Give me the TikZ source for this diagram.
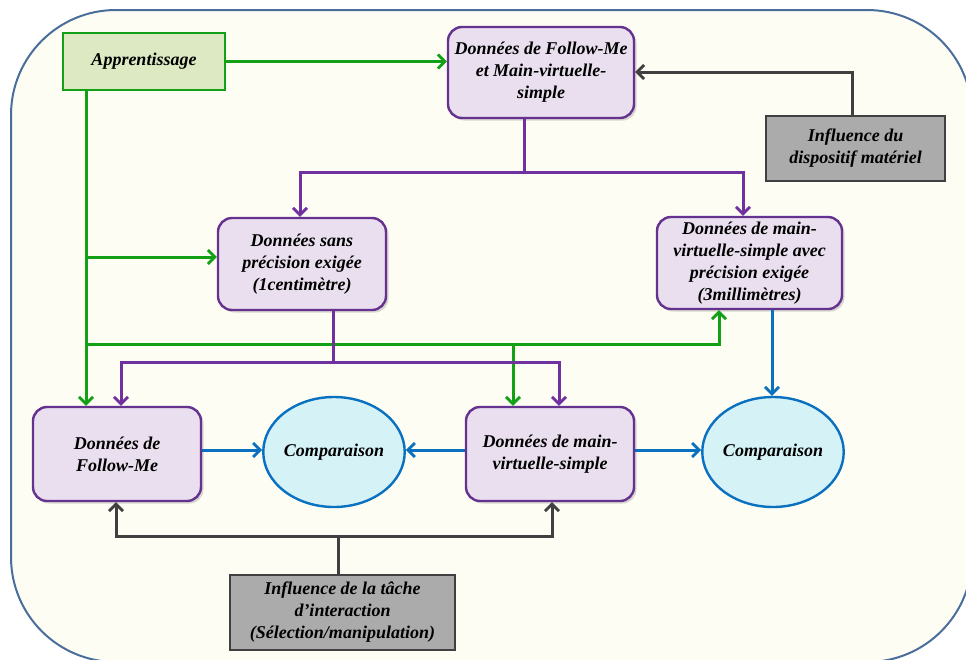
\documentclass[tikz,border=0pt]{standalone}
\usepackage{fontspec}
\setmainfont{Liberation Serif}
\usetikzlibrary{arrows.meta,shadows,shapes.geometric}
\definecolor{bgfill}{HTML}{FDFDF4}
\definecolor{bgline}{HTML}{4A6E9B}
\definecolor{grn}{HTML}{14A014}
\definecolor{grnfill}{HTML}{DDE9C3}
\definecolor{purp}{HTML}{7030A0}
\definecolor{purpline}{HTML}{65338F}
\definecolor{purpfill}{HTML}{E9DFEE}
\definecolor{blu}{HTML}{0A70C0}
\definecolor{blufill}{HTML}{D5F2F7}
\definecolor{gry}{HTML}{404040}
\definecolor{gryfill}{HTML}{ABABAB}
\tikzset{
  txt/.style={font=\fontsize{18}{22}\selectfont\bfseries\itshape, align=center, text=black, inner sep=2pt},
  pbox/.style={txt, draw=purpline, line width=2.4pt, fill=purpfill, rounded corners=14pt,
    drop shadow={shadow xshift=2.5pt, shadow yshift=-2.5pt, opacity=0.3}},
  gbox/.style={txt, draw=gry, line width=2.4pt, fill=gryfill},
  abox/.style={txt, draw=grn, line width=2.4pt, fill=grnfill},
  ebox/.style={txt, ellipse, draw=blu, line width=2.4pt, fill=blufill, inner sep=0pt},
  tip/.style={-{Straight Barb[length=7pt,width=14pt,line width=2.8pt]}},
  gline/.style={draw=grn, line width=3pt},
  pline/.style={draw=purp, line width=3pt},
  bline/.style={draw=blu, line width=3pt},
  kline/.style={draw=gry, line width=3pt},
}
\begin{document}
\begin{tikzpicture}[x=1pt,y=-1pt]
\useasboundingbox (0,0) rectangle (966,659);
\draw[fill=bgfill, draw=bgline, line width=2pt, rounded corners=105pt] (11,10) rectangle (972,662);

% nodes
\node[abox, minimum width=162pt, minimum height=57pt] (app) at (144,61.5) {Apprentissage};
\node[pbox, minimum width=186pt, minimum height=91pt] (dfm) at (541,72.5) {Données de Follow-Me\\et Main-virtuelle-\\simple};
\node[gbox, minimum width=179pt, minimum height=65pt] (infd) at (855.5,148.5) {Influence du\\dispositif matériel};
\node[pbox, minimum width=168pt, minimum height=92pt] (sans) at (302,264) {Données sans\\précision exigée\\(1centimètre)};
\node[pbox, minimum width=185pt, minimum height=92pt] (prec) at (749.5,263) {Données de main-\\virtuelle-simple avec\\précision exigée\\(3millimètres)};
\node[pbox, minimum width=168pt, minimum height=94pt] (fm) at (117,454) {Données de\\Follow-Me};
\node[ebox, minimum width=138pt, minimum height=110pt] (cmp1) at (334,452) {Comparaison};
\node[pbox, minimum width=168pt, minimum height=94pt] (mvs) at (550,454) {Données de main-\\virtuelle-simple};
\node[ebox, minimum width=139pt, minimum height=110pt] (cmp2) at (773,452) {Comparaison};
\node[gbox, minimum width=225pt, minimum height=75pt] (inft) at (342.5,612.5) {Influence de la tâche\\d’interaction\\(Sélection/manipulation)};

% helper coordinates
\coordinate (gx) at (86,0);
\coordinate (gb1) at (86,257);
\coordinate (gb2) at (86,344);
\coordinate (gx2) at (719,0);
\coordinate (gm) at (513,344);
\coordinate (pj1) at (524,172);
\coordinate (px1) at (300,0);
\coordinate (px2) at (743,0);
\coordinate (pj2) at (333,362);
\coordinate (px3) at (121,0);
\coordinate (px4) at (559,0);
\coordinate (kj1) at (852,72);
\coordinate (kj2) at (338,536);
\coordinate (kx1) at (116,0);
\coordinate (kx2) at (552,0);
\coordinate (by) at (0,450);
\coordinate (bx) at (772,0);

% green connectors
\draw[gline, tip] (app.east) -- (app.east -| dfm.west);
\draw[gline, tip] (app.south -| gx) -- (gx |- fm.north);
\draw[gline, tip] (gb1) -- (gb1 -| sans.west);
\draw[gline, tip] (gb2) -| (prec.south -| gx2);
\draw[gline, tip] (gm) -- (gm |- mvs.north);

% purple connectors
\draw[pline] (dfm.south -| pj1) -- (pj1);
\draw[pline, tip] (pj1) -| (sans.north -| px1);
\draw[pline, tip] (pj1) -| (prec.north -| px2);
\draw[pline] (sans.south -| pj2) -- (pj2);
\draw[pline, tip] (pj2) -| (fm.north -| px3);
\draw[pline, tip] (pj2) -| (mvs.north -| px4);

% blue connectors
\draw[bline, tip] (fm.east |- by) -- (cmp1.west |- by);
\draw[bline, tip] (mvs.west |- by) -- (cmp1.east |- by);
\draw[bline, tip] (mvs.east |- by) -- (cmp2.west |- by);
\draw[bline, tip] (prec.south -| bx) -- (cmp2.north -| bx);

% gray connectors
\draw[kline, tip] (infd.north -| kj1) |- (dfm.east |- kj1);
\draw[kline] (inft.north -| kj2) -- (kj2);
\draw[kline, tip] (kj2) -| (fm.south -| kx1);
\draw[kline, tip] (kj2) -| (mvs.south -| kx2);
\end{tikzpicture}
\end{document}
